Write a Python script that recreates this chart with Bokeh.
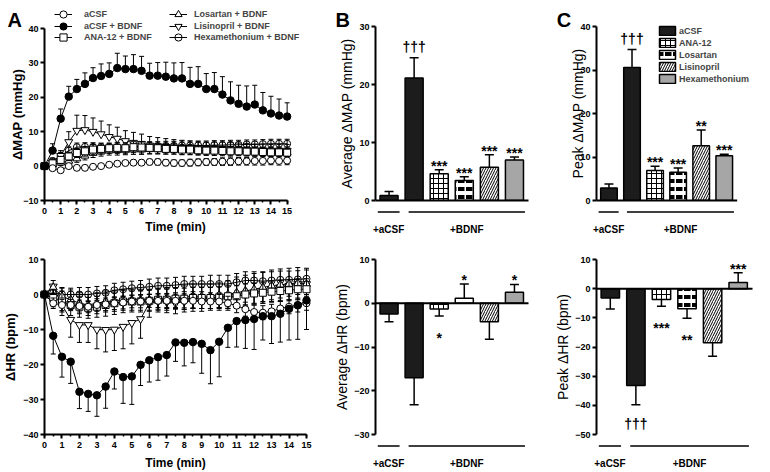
import math
from bokeh.plotting import figure
from bokeh.layouts import row, column
from bokeh.models import Range1d, FixedTicker, Legend, LegendItem, ColumnDataSource
from bokeh.core.properties import value
from bokeh.embed import file_html
from bokeh.resources import INLINE

FONT = "Liberation Sans"

# ---------------- data : time courses (panel A) ----------------
time_min = [0, 0.5, 1, 1.5, 2, 2.5, 3, 3.5, 4, 4.5, 5, 5.5, 6, 6.5, 7, 7.5,
            8, 8.5, 9, 9.5, 10, 10.5, 11, 11.5, 12, 12.5, 13, 13.5, 14, 14.5, 15]
time_ticks = [0, 1, 2, 3, 4, 5, 6, 7, 8, 9, 10, 11, 12, 13, 14, 15]
map_yticks = [-10, 0, 10, 20, 30, 40]
hr_yticks = [-40, -30, -20, -10, 0, 10]

series_names = ["aCSF", "aCSF + BDNF", "ANA-12 + BDNF",
                "Losartan + BDNF", "Lisinopril + BDNF", "Hexamethonium + BDNF"]

map_acsf = [0, -0.6, -1.2, 0.0, -0.5, -0.5, -0.2, 0.0, 0.4, 0.7, 0.9, 1.0, 1.0, 1.2, 1.2, 1.0,
            0.9, 0.9, 1.0, 1.1, 1.2, 1.2, 1.3, 1.3, 1.4, 1.4, 1.5, 1.5, 1.6, 1.5, 1.6]
map_acsf_err = [0, 0.5, 0.6, 0.5, 0.6, 0.6, 0.5, 0.6, 0.6, 0.7, 0.7, 0.8, 0.8, 0.8, 0.9, 0.9,
                0.9, 0.9, 1.0, 1.0, 1.0, 1.0, 1.1, 1.1, 1.1, 1.1, 1.2, 1.2, 1.2, 1.2, 1.2]
map_bdnf = [0, 4.5, 13.8, 20.2, 22.4, 23.9, 25.6, 26.2, 26.8, 28.5, 28.2, 28.2, 27.7, 26.3, 26.3, 26.0,
            25.5, 25.5, 23.9, 23.9, 22.4, 22.4, 20.8, 19.1, 18.1, 17.3, 17.9, 16.2, 15.3, 14.7, 14.4]
map_bdnf_err = [0, 2.0, 2.8, 3.0, 2.8, 3.2, 3.0, 3.5, 3.2, 4.3, 3.8, 4.2, 4.2, 3.6, 3.8, 4.2,
                4.5, 4.6, 4.8, 5.0, 4.5, 4.8, 5.2, 5.4, 5.4, 6.0, 5.6, 5.2, 5.0, 4.8, 4.0]
map_ana12 = [0, 0.8, 1.8, 2.8, 3.8, 4.3, 4.8, 5.0, 5.2, 5.3, 5.2, 5.5, 5.4, 5.3, 5.2, 5.0,
             5.0, 4.8, 4.8, 4.6, 4.5, 4.5, 4.4, 4.3, 4.3, 4.2, 4.2, 4.1, 4.0, 4.0, 3.9]
map_ana12_err = [0, 0.8, 1.0, 1.2, 1.3, 1.4, 1.5, 1.5, 1.5, 1.6, 1.6, 1.6, 1.6, 1.6, 1.5, 1.5,
                 1.5, 1.5, 1.5, 1.4, 1.4, 1.4, 1.4, 1.4, 1.3, 1.3, 1.3, 1.3, 1.3, 1.3, 1.3]
map_losartan = [0, 0.5, 1.0, 1.5, 2.2, 3.0, 3.8, 4.2, 4.5, 4.6, 4.7, 4.8, 4.8, 4.9, 4.9, 4.8,
                4.8, 4.7, 4.7, 4.6, 4.6, 4.5, 4.5, 4.4, 4.4, 4.3, 4.3, 4.2, 4.2, 4.1, 4.0]
map_losartan_err = [0, 0.6, 0.8, 1.0, 1.1, 1.2, 1.3, 1.3, 1.3, 1.4, 1.4, 1.4, 1.4, 1.4, 1.4, 1.3,
                    1.3, 1.3, 1.3, 1.3, 1.3, 1.3, 1.2, 1.2, 1.2, 1.2, 1.2, 1.2, 1.2, 1.2, 1.2]
map_lisinopril = [0, 1.0, 3.0, 7.0, 10.3, 10.5, 10.0, 9.3, 8.5, 8.0, 7.3, 6.8, 6.5, 6.0, 5.8, 5.6,
                  5.4, 5.3, 5.2, 5.1, 5.0, 5.0, 5.0, 4.9, 4.8, 4.7, 4.6, 4.6, 4.5, 4.5, 4.5]
map_lisinopril_err = [0, 1.0, 1.5, 3.0, 4.5, 4.2, 4.0, 3.8, 3.5, 3.3, 3.0, 3.0, 2.8, 2.6, 2.5, 2.4,
                      2.3, 2.2, 2.1, 2.0, 2.0, 2.0, 2.0, 1.9, 1.9, 1.9, 1.8, 1.8, 1.8, 1.8, 1.8]
map_hexa = [0, 1.5, 3.0, 4.5, 5.5, 5.6, 5.6, 5.5, 5.4, 5.5, 5.6, 5.7, 5.8, 5.8, 5.8, 5.9,
            5.9, 6.0, 6.0, 6.0, 6.0, 6.1, 6.1, 6.2, 6.2, 6.3, 6.3, 6.4, 6.5, 6.5, 6.5]
map_hexa_err = [0, 0.8, 1.0, 1.1, 1.2, 1.2, 1.2, 1.2, 1.2, 1.2, 1.2, 1.2, 1.2, 1.3, 1.3, 1.3,
                1.3, 1.3, 1.3, 1.3, 1.3, 1.3, 1.3, 1.3, 1.3, 1.3, 1.3, 1.3, 1.3, 1.3, 1.3]

hr_acsf = [0, -2.5, -3.0, -3.0, -3.3, -3.5, -3.0, -2.8, -2.5, -2.3, -2.0, -2.0, -1.8, -1.8, -1.8, -1.8,
           -1.8, -1.8, -2.0, -2.0, -2.0, -2.5, -3.2, -4.2, -5.0, -5.2, -4.8, -4.0, -3.5, -3.0, -2.5]
hr_acsf_err = [0, 1.5, 1.6, 1.6, 1.7, 1.7, 1.8, 1.8, 1.8, 1.8, 1.8, 1.8, 1.9, 1.9, 1.9, 1.9,
               2.0, 2.0, 2.0, 2.0, 2.0, 2.0, 2.0, 2.0, 2.0, 2.0, 2.0, 2.0, 2.0, 2.0, 2.0]
hr_bdnf = [0, -11.8, -17.8, -19.2, -27.8, -28.4, -28.8, -26.3, -22.0, -23.6, -23.4, -20.1, -18.8, -17.9,
           -17.3, -13.7, -13.8, -13.6, -14.1, -15.9, -13.5, -9.5, -7.6, -7.3, -7.0, -6.2, -6.2, -5.5,
           -4.1, -3.1, -1.7]
hr_bdnf_err = [0, 5.2, 5.8, 6.2, 4.8, 5.0, 6.0, 6.2, 5.0, 7.5, 8.0, 5.9, 6.2, 6.6, 6.0, 5.4,
               6.6, 5.9, 8.4, 9.6, 10.0, 5.6, 7.4, 8.1, 8.7, 6.8, 7.8, 8.1, 8.9, 9.7, 8.3]
hr_ana12 = [0, -1.0, -2.0, -3.0, -3.5, -3.8, -3.5, -3.0, -2.5, -2.0, -2.0, -2.0, -1.8, -1.5, -1.5, -1.2,
            -1.2, -1.0, -1.0, -1.0, -0.8, -0.5, -0.5, 0.0, 0.3, 0.5, 0.8, 1.0, 1.2, 1.5, 1.5]
hr_ana12_err = [0, 2.5, 3.0, 3.0, 3.0, 3.0, 3.0, 3.2, 3.2, 3.2, 3.0, 3.0, 3.0, 3.0, 3.0, 3.0,
                3.0, 3.0, 3.0, 3.0, 3.0, 3.0, 3.0, 3.0, 3.0, 3.0, 3.0, 3.0, 3.0, 3.0, 3.0]
hr_losartan = [0, 2.0, -0.5, -1.5, -2.5, -3.0, -2.5, -2.0, -1.8, -1.5, -1.5, -1.5, -1.5, -1.2, -1.0, -1.0,
               -0.8, -0.5, -0.5, -0.5, -0.2, 0.0, 0.5, 1.0, 1.5, 2.0, 2.5, 2.8, 3.0, 3.2, 3.0]
hr_losartan_err = [0, 2.0, 2.5, 2.8, 3.0, 3.0, 3.0, 3.0, 3.0, 3.0, 3.0, 3.0, 3.0, 3.0, 3.0, 3.0,
                   3.5, 3.5, 3.5, 3.5, 3.5, 4.0, 4.5, 4.5, 4.5, 4.5, 4.5, 4.5, 4.5, 4.5, 4.5]
hr_lisinopril = [0, 2.3, -3.0, -7.2, -8.7, -8.7, -10.0, -10.1, -10.0, -9.2, -8.1, -7.0, -2.5, -2.0, -2.2,
                 -2.5, -2.0, -1.8, -1.8, -1.5, -1.5, -1.0, -0.5, 0.0, 0.5, 1.0, 1.5, 2.0, 2.5, 3.0, 3.0]
hr_lisinopril_err = [0, 2.0, 3.0, 5.0, 5.0, 5.0, 5.5, 6.3, 6.0, 6.3, 6.0, 5.5, 4.0, 3.0, 3.0, 3.0,
                     3.0, 3.0, 3.0, 3.0, 3.0, 3.0, 3.0, 3.0, 3.0, 3.0, 3.0, 3.0, 3.0, 3.0, 3.0]
hr_hexa = [0, 0.5, 0.0, 0.0, 0.0, 0.0, 0.3, 0.5, 1.2, 1.5, 1.8, 2.0, 2.2, 2.5, 2.5, 2.7,
           3.0, 3.0, 3.0, 3.0, 3.0, 3.0, 3.5, 4.0, 4.0, 3.8, 4.0, 4.2, 4.2, 4.3, 4.5]
hr_hexa_err = [0, 1.5, 1.8, 1.8, 2.0, 2.0, 2.0, 2.0, 2.0, 2.0, 2.0, 2.0, 2.2, 2.2, 2.2, 2.2,
               2.2, 2.2, 2.2, 2.5, 2.5, 2.5, 2.5, 2.5, 2.5, 2.5, 2.5, 2.5, 2.5, 2.5, 2.5]

# ---------------- data : bar panels (B, C) ----------------
pretreat = ["aCSF", "aCSF", "ANA-12", "Losartan", "Lisinopril", "Hexamethonium"]
treatment = ["+aCSF", "+BDNF", "+BDNF", "+BDNF", "+BDNF", "+BDNF"]

avg_map = [0.86, 21.1, 4.6, 3.45, 5.75, 7.0]
avg_map_err = [0.7, 3.5, 0.7, 0.65, 2.15, 0.5]
avg_map_sig = ["", "\u2020\u2020\u2020", "***", "***", "***", "***"]

peak_map = [2.85, 30.6, 6.9, 6.5, 12.6, 10.3]
peak_map_err = [0.95, 4.1, 1.0, 1.0, 3.6, 0.35]
peak_map_sig = ["", "\u2020\u2020\u2020", "***", "***", "**", "***"]

avg_hr = [-2.45, -17.0, -1.3, 1.15, -4.2, 2.5]
avg_hr_err = [1.75, 6.2, 1.6, 3.25, 4.0, 1.8]
avg_hr_sig = ["", "", "*", "*", "", "*"]

peak_hr = [-3.2, -33.2, -3.7, -6.9, -18.5, 2.1]
peak_hr_err = [3.8, 6.6, 2.3, 3.2, 4.7, 3.4]
peak_hr_sig = ["", "\u2020\u2020\u2020", "***", "**", "", "***"]

bar_yticks_b_top = [0, 10, 20, 30]
bar_yticks_b_bot = [-30, -20, -10, 0, 10]
bar_yticks_c_top = [0, 10, 20, 30, 40]
bar_yticks_c_bot = [-50, -40, -30, -20, -10, 0, 10]

# ---------------- styles ----------------
SERIES_STYLE = {
    "aCSF": dict(marker="circle", fill_color="white", fill_alpha=1.0, size=7),
    "aCSF + BDNF": dict(marker="circle", fill_color="black", fill_alpha=1.0, size=7.5),
    "ANA-12 + BDNF": dict(marker="square", fill_color="white", fill_alpha=1.0, size=7),
    "Losartan + BDNF": dict(marker="triangle", fill_color="white", fill_alpha=1.0, size=8),
    "Lisinopril + BDNF": dict(marker="inverted_triangle", fill_color="white", fill_alpha=1.0, size=8),
    "Hexamethonium + BDNF": dict(marker="circle", fill_color="white", fill_alpha=0.0, size=7),
}
DRAW_ORDER = ["Hexamethonium + BDNF", "Lisinopril + BDNF", "Losartan + BDNF",
              "ANA-12 + BDNF", "aCSF", "aCSF + BDNF"]

BAR_STYLE = {
    "aCSF": dict(fill_color="#1c1c1c"),
    "ANA-12": dict(fill_color="white", hatch_pattern="cross", hatch_color="black",
                   hatch_scale=5, hatch_weight=1),
    "Losartan": dict(fill_color="white", hatch_pattern="horizontal_dash", hatch_color="black",
                     hatch_scale=8, hatch_weight=4),
    "Lisinopril": dict(fill_color="white", hatch_pattern="right_diagonal_line", hatch_color="black",
                       hatch_scale=5, hatch_weight=1),
    "Hexamethonium": dict(fill_color="#a6a6a6"),
}

# ---------------- geometry (pixels) ----------------
# w, h: canvas; fl, ft, fw, fh: axes box; ext_t, ext_r: extra drawing room inside the frame
GEOM = {
    "A_top": dict(w=330, h=236, fl=43, ft=28, fw=263, fh=172, ext_t=24, ext_r=21),
    "A_bot": dict(w=330, h=236, fl=43, ft=23, fw=263, fh=175, ext_t=0, ext_r=0),
    "B_top": dict(w=218, h=236, fl=45, ft=26, fw=153, fh=174, ext_t=0, ext_r=0),
    "B_bot": dict(w=218, h=236, fl=45, ft=23, fw=153, fh=175, ext_t=0, ext_r=0),
    "C_top": dict(w=222, h=236, fl=48, ft=26, fw=156, fh=174, ext_t=8, ext_r=17),
    "C_bot": dict(w=222, h=236, fl=48, ft=23, fw=156, fh=175, ext_t=0, ext_r=0),
}
BAR_XR = (-0.54, 5.56)


def to_data(g, xr, yr, px, py):
    """canvas pixel -> data coordinates for a panel"""
    x = xr[0] + (px - g["fl"]) * (xr[1] - xr[0]) / g["fw"]
    y = yr[1] - (py - g["ft"]) * (yr[1] - yr[0]) / g["fh"]
    return x, y


def base_fig(g, xr, yr):
    x_end = xr[1] + g["ext_r"] * (xr[1] - xr[0]) / g["fw"]
    y_end = yr[1] + g["ext_t"] * (yr[1] - yr[0]) / g["fh"]
    p = figure(width=g["w"], height=g["h"], x_range=Range1d(xr[0], x_end),
               y_range=Range1d(yr[0], y_end), output_backend="svg", toolbar_location=None,
               min_border_left=g["fl"], min_border_top=g["ft"] - g["ext_t"],
               min_border_right=g["w"] - g["fl"] - g["fw"] - g["ext_r"],
               min_border_bottom=g["h"] - g["ft"] - g["fh"])
    p.outline_line_color = None
    p.grid.visible = False
    p.yaxis.bounds = (yr[0], yr[1])
    p.xaxis.bounds = (xr[0], xr[1])
    return p


def style_axis(ax, label_size, label_style, standoff=2, tick_standoff=2):
    ax.axis_line_width = 2
    ax.axis_line_color = "black"
    ax.major_tick_line_width = 2
    ax.major_tick_line_color = "black"
    ax.major_tick_in = 0
    ax.major_tick_out = 4
    ax.minor_tick_line_width = 1.5
    ax.minor_tick_line_color = "black"
    ax.minor_tick_in = 0
    ax.minor_tick_out = 2
    ax.major_label_text_font = FONT
    ax.major_label_text_font_size = "9px"
    ax.major_label_text_font_style = "bold"
    ax.major_label_text_color = "black"
    ax.major_label_standoff = tick_standoff
    ax.axis_label_text_font = FONT
    ax.axis_label_text_font_size = label_size
    ax.axis_label_text_font_style = label_style
    ax.axis_label_text_color = "black"
    ax.axis_label_standoff = standoff


def add_text(p, x, y, text, size, style="bold", align="left", baseline="alphabetic", angle=0.0):
    p.text(x=[x], y=[y], text=[text], angle=angle, text_align=align, text_baseline=baseline,
           text_font=value(FONT), text_font_size=size, text_font_style=style,
           text_color="black", level="overlay")


def line_panel(g, yr, yticks, ylabel, means, errs, dirs, title_standoff, label_as_text=False):
    xr = (time_min[0], time_min[-1])
    p = base_fig(g, xr, yr)
    p.xaxis.ticker = FixedTicker(ticks=time_ticks, minor_ticks=time_min)
    p.yaxis.ticker = FixedTicker(ticks=yticks, minor_ticks=[])
    style_axis(p.xaxis[0], "12px", "bold", title_standoff, 3)
    style_axis(p.yaxis[0], "13px", "bold", 2, 2)
    p.xaxis.axis_label = "Time (min)"
    if label_as_text:
        lx, ly = to_data(g, xr, yr, 14, g["ft"] + g["fh"] / 2)
        add_text(p, lx, ly, ylabel, "13px", "bold", "center", "middle", math.pi / 2)
    else:
        p.yaxis.axis_label = ylabel
    rends = {}
    for name in DRAW_ORDER:
        m, e, d = means[name], errs[name], dirs.get(name, "both")
        lo = [mi - ei if d in ("both", "down") else mi for mi, ei in zip(m, e)]
        hi = [mi + ei if d in ("both", "up") else mi for mi, ei in zip(m, e)]
        p.segment(x0=time_min, y0=lo, x1=time_min, y1=hi, line_color="black",
                  line_width=1, level="overlay")
        cx = [t for t, a, mi in zip(time_min, lo, m) if a != mi] + \
             [t for t, b, mi in zip(time_min, hi, m) if b != mi]
        cy = [a for a, mi in zip(lo, m) if a != mi] + [b for b, mi in zip(hi, m) if b != mi]
        p.scatter(x=cx, y=cy, marker="dash", size=5, line_color="black", line_width=1,
                  level="overlay")
        lr = p.line(x=time_min, y=m, line_color="black", line_width=1, level="overlay")
        st = SERIES_STYLE[name]
        mr = p.scatter(x=time_min, y=m, marker=st["marker"], size=st["size"],
                       fill_color=st["fill_color"], fill_alpha=st["fill_alpha"],
                       line_color="black", line_width=1, level="overlay")
        rends[name] = [lr, mr]
    return p, rends, xr


def bar_panel(g, yr, yticks, ylabel, vals, errs, sigs, label_as_text=False):
    xr = BAR_XR
    p = base_fig(g, xr, yr)
    p.xaxis.visible = False
    p.yaxis.ticker = FixedTicker(ticks=yticks, minor_ticks=[])
    style_axis(p.yaxis[0], "14px", "normal", 1, 2)
    if label_as_text:
        lx, ly = to_data(g, xr, yr, 27, g["ft"] + g["fh"] / 2)
        add_text(p, lx, ly, ylabel, "14px", "normal", "center", "middle", math.pi / 2)
    else:
        p.yaxis.axis_label = ylabel
    xs = list(range(len(pretreat)))
    ends = [v + e if v >= 0 else v - e for v, e in zip(vals, errs)]
    p.segment(x0=xs, y0=vals, x1=xs, y1=ends, line_color="black", line_width=1.5)
    p.scatter(x=xs, y=ends, marker="dash", size=9, line_color="black", line_width=1.5)
    bar_rs = []
    for i in xs:
        r = p.vbar(x=[i], top=[vals[i]], bottom=0, width=0.72, line_color="black",
                   line_width=1.5, **BAR_STYLE[pretreat[i]])
        bar_rs.append(r)
    # baseline at zero across the axes box
    p.segment(x0=[xr[0]], y0=[0], x1=[xr[1]], y1=[0], line_color="black", line_width=2,
              level="overlay")
    # significance marks
    dy = []
    for s, v in zip(sigs, vals):
        dag = "\u2020" in s
        if v >= 0:
            dy.append(-11 if dag else -4)
        else:
            dy.append(19 if dag else 22)
    src = ColumnDataSource(dict(x=xs, y=ends, text=sigs, dy=dy))
    p.text(x="x", y="y", text="text", y_offset="dy", source=src, text_align="center",
           text_baseline="alphabetic", text_font=value(FONT), text_font_size="14px",
           text_font_style="bold", text_color="black", level="overlay")
    # group brackets
    groups = []
    for i, gname in enumerate(treatment):
        if groups and groups[-1][0] == gname:
            groups[-1][2] = i
        else:
            groups.append([gname, i, i])
    by = yr[0] - 11.5 * (yr[1] - yr[0]) / g["fh"]
    bx0 = [gr[1] - (0.45 if k == 0 else 0.22) for k, gr in enumerate(groups)]
    bx1 = [gr[2] + 0.42 for gr in groups]
    p.segment(x0=bx0, y0=[by] * len(groups), x1=bx1, y1=[by] * len(groups),
              line_color="black", line_width=1.5, level="overlay")
    p.text(x=[(a + b) / 2 for a, b in zip(bx0, bx1)], y=[by] * len(groups),
           text=[gr[0] for gr in groups], y_offset=17, text_align="center",
           text_baseline="alphabetic", text_font=value(FONT), text_font_size="10px",
           text_font_style="bold", text_color="black", level="overlay")
    return p, bar_rs, xr


# ---------------- panel A ----------------
map_means = dict(zip(series_names, [map_acsf, map_bdnf, map_ana12, map_losartan, map_lisinopril, map_hexa]))
map_errs = dict(zip(series_names, [map_acsf_err, map_bdnf_err, map_ana12_err, map_losartan_err,
                                   map_lisinopril_err, map_hexa_err]))
hr_means = dict(zip(series_names, [hr_acsf, hr_bdnf, hr_ana12, hr_losartan, hr_lisinopril, hr_hexa]))
hr_errs = dict(zip(series_names, [hr_acsf_err, hr_bdnf_err, hr_ana12_err, hr_losartan_err,
                                  hr_lisinopril_err, hr_hexa_err]))

MAP_YR, HR_YR = (-10, 40), (-40, 10)
a_top, a_rends, a_xr = line_panel(GEOM["A_top"], MAP_YR, map_yticks, "\u0394MAP (mmHg)",
                                  map_means, map_errs,
                                  {"aCSF + BDNF": "up", "Lisinopril + BDNF": "up"}, 3, True)
a_bot, _, _ = line_panel(GEOM["A_bot"], HR_YR, hr_yticks, "\u0394HR (bpm)",
                         hr_means, hr_errs, {"aCSF + BDNF": "down", "Lisinopril + BDNF": "down"}, 5)

# key of panel A: one single-entry legend per series, two columns of three
key_x = [10, 125]          # px from frame left to the key glyph box
key_y = [177, 165, 154]    # px from frame bottom to the key row bottom
key_standoff = [12, 7]
for k, name in enumerate(series_names):
    c, r = k // 3, k % 3
    a_top.add_layout(Legend(items=[LegendItem(label=name, renderers=a_rends[name])],
                            location=(key_x[c], key_y[r]), glyph_width=18, glyph_height=18,
                            label_height=11, label_standoff=key_standoff[c], spacing=0,
                            padding=0, margin=0, border_line_alpha=0, background_fill_alpha=0,
                            label_text_font=FONT, label_text_font_size="9px",
                            label_text_font_style="bold"))
ax_, ay_ = to_data(GEOM["A_top"], a_xr, MAP_YR, 3, 19)
add_text(a_top, ax_, ay_, "A", "20px")

# ---------------- panel B ----------------
b_top, _, b_xr = bar_panel(GEOM["B_top"], (0, 30), bar_yticks_b_top,
                           "Average \u0394MAP (mmHg)", avg_map, avg_map_err, avg_map_sig)
b_bot, _, _ = bar_panel(GEOM["B_bot"], (-30, 10), bar_yticks_b_bot,
                        "Average \u0394HR (bpm)", avg_hr, avg_hr_err, avg_hr_sig)
bx_, by_ = to_data(GEOM["B_top"], b_xr, (0, 30), 5, 19.5)
add_text(b_top, bx_, by_, "B", "20px")

# ---------------- panel C ----------------
c_top, c_bars, c_xr = bar_panel(GEOM["C_top"], (0, 40), bar_yticks_c_top,
                                "Peak \u0394MAP (mmHg)", peak_map, peak_map_err, peak_map_sig, True)
c_bot, _, _ = bar_panel(GEOM["C_bot"], (-50, 10), bar_yticks_c_bot,
                        "Peak \u0394HR (bpm)", peak_hr, peak_hr_err, peak_hr_sig)
cx_, cy_ = to_data(GEOM["C_top"], c_xr, (0, 40), 4, 19.5)
add_text(c_top, cx_, cy_, "C", "20px")

leg_c = Legend(items=[LegendItem(label=pretreat[i], renderers=[c_bars[i]]) for i in range(1, 6)],
               location=(61, 116), glyph_width=20, glyph_height=11, label_height=11, spacing=1,
               padding=0, margin=0, border_line_alpha=0, background_fill_alpha=0,
               label_text_font=FONT, label_text_font_size="9px", label_text_font_style="bold",
               label_standoff=2)
c_top.add_layout(leg_c)

layout = row(column(a_top, a_bot), column(b_top, b_bot), column(c_top, c_bot))

open("out.html", "w").write(file_html(layout, INLINE))
